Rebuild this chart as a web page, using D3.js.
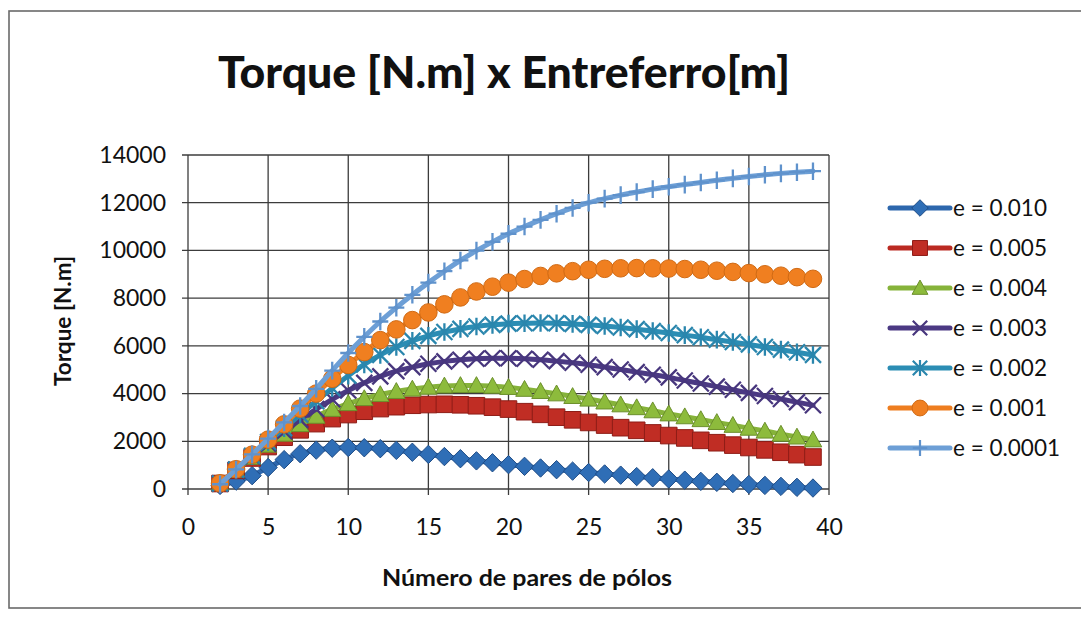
<!DOCTYPE html>
<html>
<head>
<meta charset="utf-8">
<script src="https://cdn.jsdelivr.net/npm/d3@7"></script>
<style>
  html, body { margin: 0; padding: 0; background: #fff; }
  svg { display: block; }
  text { font-family: Lato, "Open Sans", sans-serif; fill: #111; }
</style>
</head>
<body>
<svg id="chart" width="1081" height="622"></svg>
<script>
// Number of pole pairs (x categories)
const poles = [2,3,4,5,6,7,8,9,10,11,12,13,14,15,16,17,18,19,20,21,22,23,24,25,26,27,28,29,30,31,32,33,34,35,36,37,38,39];

// Torque [N.m] for each air gap e [m]
const torqueE0010 = [150,330,560,900,1230,1480,1630,1710,1740,1730,1690,1620,1540,1450,1360,1270,1180,1100,1020,950,880,810,750,690,630,580,520,470,420,370,320,280,230,190,150,110,70,40];
const torqueE0005 = [230,780,1300,1780,2170,2480,2740,2950,3120,3260,3370,3450,3510,3540,3550,3530,3490,3430,3350,3240,3130,3010,2900,2790,2680,2570,2460,2350,2240,2140,2040,1940,1840,1740,1640,1540,1440,1340];
const torqueE0004 = [230,790,1330,1840,2300,2700,3050,3340,3580,3790,3960,4090,4190,4270,4320,4340,4340,4310,4260,4180,4090,3990,3880,3770,3650,3530,3410,3280,3150,3030,2910,2790,2670,2550,2430,2300,2180,2060];
const torqueE0003 = [230,800,1360,1900,2420,2900,3350,3760,4130,4450,4720,4940,5110,5250,5350,5420,5460,5480,5480,5460,5420,5360,5290,5210,5110,5010,4900,4790,4680,4550,4420,4290,4160,4030,3900,3770,3640,3510];
const torqueE0002 = [230,810,1390,1970,2550,3120,3680,4230,4750,5220,5620,5950,6210,6420,6580,6710,6810,6880,6930,6950,6960,6950,6920,6880,6830,6770,6700,6620,6540,6450,6360,6260,6160,6060,5950,5840,5730,5620];
const torqueE0001 = [240,830,1440,2070,2710,3370,4000,4620,5200,5740,6240,6690,7080,7400,7740,8030,8280,8480,8650,8800,8930,9040,9130,9190,9230,9250,9260,9250,9240,9220,9190,9150,9100,9050,9000,8940,8880,8810];
const torqueE00001 = [200,820,1450,2110,2790,3480,4200,4960,5700,6380,7020,7600,8140,8650,9130,9580,9990,10360,10700,11000,11280,11540,11780,12000,12170,12320,12450,12570,12670,12760,12850,12940,13020,13100,13170,13230,13280,13320];

const seriesLabels = ["e = 0.010","e = 0.005","e = 0.004","e = 0.003","e = 0.002","e = 0.001","e = 0.0001"];
const seriesValues = [torqueE0010, torqueE0005, torqueE0004, torqueE0003, torqueE0002, torqueE0001, torqueE00001];

const xTicks = [0,5,10,15,20,25,30,35,40];
const yTicks = [0,2000,4000,6000,8000,10000,12000,14000];

const titleText = "Torque [N.m] x Entreferro[m]";
const xTitle = "Número de pares de pólos";
const yTitle = "Torque [N.m]";

// Visual style per series: line colour, marker fill/edge, marker shape
const styles = [
  {color:"#2d67ad", fill:"#2f6eb6", edge:"#1f4c86", shape:"diamond"},
  {color:"#bb2a22", fill:"#c02d24", edge:"#8e1d17", shape:"square"},
  {color:"#86b33a", fill:"#8dbb3c", edge:"#6b8f2b", shape:"triangle"},
  {color:"#4b3983", fill:"none",    edge:"#47367d", shape:"x"},
  {color:"#2b8db4", fill:"none",    edge:"#2a86ad", shape:"star"},
  {color:"#ee7d1f", fill:"#f07f20", edge:"#d06a14", shape:"circle"},
  {color:"#6d9fd6", fill:"none",    edge:"#5f92cc", shape:"plus"}
];

const svg = d3.select("#chart");

// Chart frame
svg.append("rect").attr("x",9).attr("y",11).attr("width",1090).attr("height",597)
  .attr("fill","#fff").attr("stroke","#6a6a6a").attr("stroke-width",1.6);

const plot = {left:188, right:829, top:155, bottom:489};
const x = d3.scaleLinear().domain([0,40]).range([plot.left, plot.right]);
const y = d3.scaleLinear().domain([0,14000]).range([plot.bottom, plot.top]);

// Gridlines with short outer ticks
const grid = svg.append("g");
grid.selectAll("line.h").data(yTicks).join("line")
  .attr("x1", plot.left - 6).attr("x2", plot.right)
  .attr("y1", d => y(d)).attr("y2", d => y(d))
  .attr("stroke","#3c3c3c").attr("stroke-width",1.3);
grid.selectAll("line.v").data(xTicks).join("line")
  .attr("y1", plot.top).attr("y2", plot.bottom + 6)
  .attr("x1", d => x(d)).attr("x2", d => x(d))
  .attr("stroke","#3c3c3c").attr("stroke-width",1.3);

// Axis tick labels
const yAxis = d3.axisLeft(y).tickValues(yTicks).tickSize(0).tickPadding(22).tickFormat(d3.format("d"));
const gy = svg.append("g").attr("transform",`translate(${plot.left},0)`).call(yAxis);
gy.select(".domain").remove();
gy.selectAll("text").style("font-family","Lato, sans-serif").style("font-size","23px").attr("fill","#111");

const xAxis = d3.axisBottom(x).tickValues(xTicks).tickSize(0).tickPadding(30).tickFormat(d3.format("d"));
const gx = svg.append("g").attr("transform",`translate(0,${plot.bottom})`).call(xAxis);
gx.select(".domain").remove();
gx.selectAll("text").style("font-family","Lato, sans-serif").style("font-size","23px").attr("fill","#111");

// Titles
svg.append("text").attr("x",504).attr("y",88).attr("text-anchor","middle")
  .attr("font-size",44).attr("font-weight","900")
  .attr("textLength",572).attr("lengthAdjust","spacingAndGlyphs")
  .text(titleText);
svg.append("text").attr("x",527).attr("y",586).attr("text-anchor","middle")
  .attr("font-size",22).attr("font-weight","bold")
  .attr("textLength",290).attr("lengthAdjust","spacingAndGlyphs")
  .text(xTitle);
svg.append("text").attr("transform","translate(71,321) rotate(-90)").attr("text-anchor","middle")
  .attr("font-size",22).attr("font-weight","bold")
  .attr("textLength",130).attr("lengthAdjust","spacingAndGlyphs")
  .text(yTitle);

// Marker path builder
function markerPath(shape, r) {
  switch (shape) {
    case "diamond": return `M0,${-r}L${r},0L0,${r}L${-r},0Z`;
    case "square": return `M${-r},${-r}H${r}V${r}H${-r}Z`;
    case "triangle": return `M0,${-r}L${r},${r*0.8}L${-r},${r*0.8}Z`;
    case "circle": return `M${r},0A${r},${r} 0 1,1 ${-r},0A${r},${r} 0 1,1 ${r},0Z`;
    case "x": return `M${-r},${-r}L${r},${r}M${-r},${r}L${r},${-r}`;
    case "star": return `M${-r},${-r}L${r},${r}M${-r},${r}L${r},${-r}M0,${-r*1.1}V${r*1.1}`;
    case "plus": return `M0,${-r*1.1}V${r*1.1}M${-r},0H${r}`;
  }
}
const markerSize = {diamond:9.2, square:8.3, triangle:8.8, circle:8.8, x:8, star:8, plus:8};
const strokeShapes = new Set(["x","star","plus"]);

const line = d3.line().x((d,i) => x(poles[i])).y(d => y(d)).curve(d3.curveMonotoneX);

seriesValues.forEach((vals, si) => {
  const st = styles[si];
  const g = svg.append("g");
  g.append("path").datum(vals).attr("d", line)
    .attr("fill","none").attr("stroke",st.color).attr("stroke-width",5)
    .attr("stroke-linejoin","round").attr("stroke-linecap","round");
  g.selectAll("path.m").data(vals).join("path").attr("class","m")
    .attr("transform",(d,i) => `translate(${x(poles[i])},${y(d)})`)
    .attr("d", markerPath(st.shape, markerSize[st.shape]))
    .attr("fill", strokeShapes.has(st.shape) ? "none" : st.fill)
    .attr("stroke", st.edge)
    .attr("stroke-width", strokeShapes.has(st.shape) ? 2.3 : 1);
});

// Legend
const legend = svg.append("g");
seriesLabels.forEach((lab, i) => {
  const st = styles[i];
  const ly = 208 + i * 40;
  legend.append("line").attr("x1",890).attr("x2",950).attr("y1",ly).attr("y2",ly)
    .attr("stroke",st.color).attr("stroke-width",5).attr("stroke-linecap","round");
  legend.append("path").attr("transform",`translate(920,${ly})`)
    .attr("d", markerPath(st.shape, markerSize[st.shape] * 0.9))
    .attr("fill", strokeShapes.has(st.shape) ? "none" : st.fill)
    .attr("stroke", st.edge)
    .attr("stroke-width", strokeShapes.has(st.shape) ? 2.2 : 1);
  legend.append("text").attr("x",953).attr("y",ly).attr("dy","0.36em")
    .attr("font-size",22.5).text(lab);
});
</script>
</body>
</html>
